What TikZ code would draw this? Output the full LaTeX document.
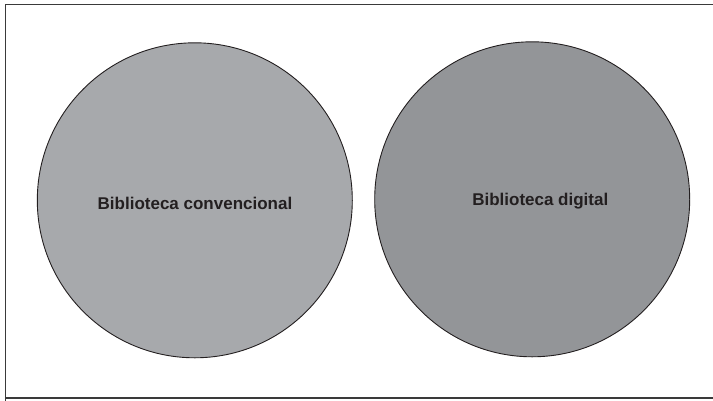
\documentclass[tikz,border=0pt]{standalone}
\usepackage{fontspec}
\setmainfont{Liberation Sans}
\definecolor{convfill}{HTML}{A7A9AC}
\definecolor{digfill}{HTML}{939598}
\definecolor{txt}{HTML}{231F20}
\definecolor{framec}{HTML}{3A3A3A}
\begin{document}
\begin{tikzpicture}[x=1pt,y=-1pt,
  lib/.style={circle,draw=txt,line width=0.9pt,inner sep=0pt,minimum size=315pt},
  libtext/.style={text=txt,font=\fontsize{17}{20}\selectfont\bfseries,inner sep=0pt}]
\useasboundingbox (0,0) rectangle (713,400);
\draw[framec,line width=1.3pt] (5.3,420) -- (5.3,4.3) -- (730,4.3);
\draw[framec,line width=1.3pt] (5.3,398) -- (730,398);
\node[lib,fill=convfill] (conv) at (194.8,200.3) {};
\node[lib,fill=digfill] (dig) at (532.2,199.3) {};
\node[libtext] (convt) at (195,203.5) {Biblioteca convencional};
\node[libtext] (digt) at (540.3,201.5) {Biblioteca digital};
\end{tikzpicture}
\end{document}
